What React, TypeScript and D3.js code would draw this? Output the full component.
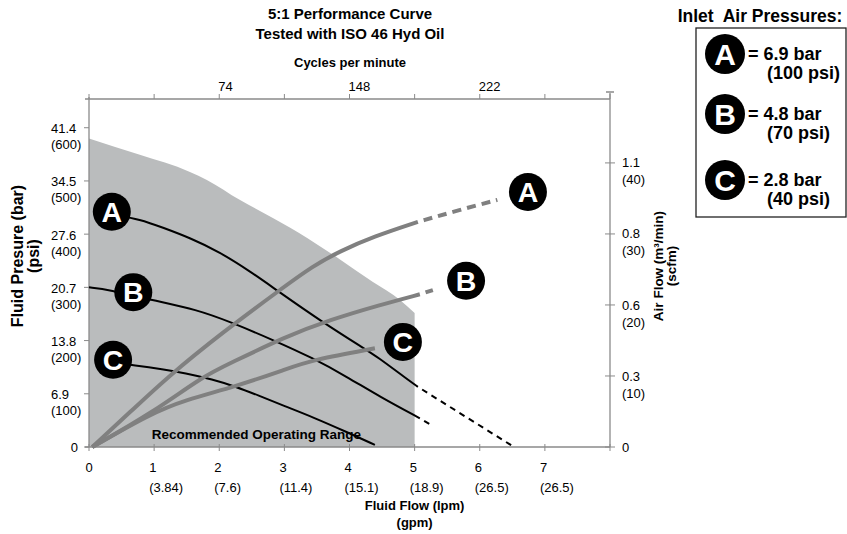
import React from "react";
import * as d3 from "d3";

// bottom axis: flow (gpm) with (lpm) under it, as printed
const flowTicks = [0, 1, 2, 3, 4, 5, 6, 7];
const flowSubLabels = ["", "(3.84)", "(7.6)", "(11.4)", "(15.1)", "(18.9)", "(26.5)", "(26.5)"];

// top axis: cycles per minute
const cycleTicks = [0, 37, 74, 111, 148, 185, 222, 259, 296];
const cycleLabels = [74, 148, 222];

// left axis: fluid pressure
const psiTicks = [0, 100, 200, 300, 400, 500, 600];
const barLabels = ["0", "6.9", "13.8", "20.7", "27.6", "34.5", "41.4"];

// right axis: air flow
const scfmTicks = [0, 10, 20, 30, 40];
const m3Labels = ["0", "0.3", "0.6", "0.8", "1.1"];

// recommended operating range (upper limit, psi)
const rangeFlow = [0, 0.78, 1.55, 1.81, 2.32, 2.83, 3.35, 3.86, 4.36, 4.78, 5.0];
const rangePsi = [580, 549, 517, 502, 464, 430, 393, 352, 310, 276, 252];

// fluid pressure curves (psi)
const pressAFlow = [0.4, 0.78, 1.14, 1.55, 2.0, 2.5, 2.9, 3.58, 4.24, 4.42, 4.88, 5.05];
const pressAPsi = [436, 428, 412, 393, 367, 328, 293, 235, 184, 170, 128, 113];
const pressAExtFlow = [5.05, 6.5];
const pressAExtPsi = [113, 2];

const pressBFlow = [0, 0.3, 0.97, 1.66, 2.17, 2.83, 3.44, 3.96, 4.47, 5.08];
const pressBPsi = [300, 296, 276, 258, 235, 201, 167, 132, 94, 54];
const pressBExtFlow = [5.08, 5.27];
const pressBExtPsi = [54, 40];

const pressCFlow = [0.4, 0.68, 1.14, 1.47, 1.9, 2.24, 2.6, 3.0, 3.44, 3.96, 4.39];
const pressCPsi = [158, 154, 146, 139, 127, 114, 97, 77, 56, 28, 4];

// air consumption curves (scfm)
const airAFlow = [0.05, 0.63, 1.21, 2.06, 2.93, 3.44, 3.86, 4.36, 5.05];
const airAScfm = [0, 4.9, 9.9, 16.2, 22.1, 25.5, 27.6, 29.6, 31.7];
const airAExtFlow = [5.05, 5.7, 6.27];
const airAExtScfm = [31.7, 33.4, 34.8];

const airBFlow = [0.05, 0.97, 1.74, 2.17, 3.01, 3.7, 4.47, 5.08];
const airBScfm = [0, 4.8, 9.9, 11.8, 15.5, 17.9, 20.0, 21.5];
const airBExtFlow = [5.08, 5.28];
const airBExtScfm = [21.5, 22.1];

const airCFlow = [0.05, 0.95, 1.47, 2.24, 3.01, 3.44, 4.39];
const airCScfm = [0, 4.7, 6.6, 8.5, 10.9, 12.3, 13.9];

// circled letters
const letters = ["A", "B", "C"];
const pressMarkFlow = [0.35, 0.68, 0.37];
const pressMarkPsi = [442, 291, 164];
const airMarkFlow = [6.74, 5.79, 4.82];
const airMarkScfm = [35.9, 23.4, 14.8];

// legend
const legendBar = ["= 6.9 bar", "= 4.8 bar", "= 2.8 bar"];
const legendPsi = ["(100 psi)", "(70 psi)", "(40 psi)"];

const FONT = "'Liberation Sans', Arial, Helvetica, sans-serif";
const AXIS = "#8a8a8a";
const AIR = "#808080";

type Pt = [number, number];

function Badge({ cx, cy, r, letter }: { cx: number; cy: number; r: number; letter: string }) {
  return (
    <g>
      <circle cx={cx} cy={cy} r={r} fill="#000" />
      <text x={cx} y={cy} dy="0.36em" textAnchor="middle" fill="#fff" fontWeight="bold" fontSize={r * 1.5}>
        {letter}
      </text>
    </g>
  );
}

export default function App() {
  const x = d3.scaleLinear().domain([0, 8]).range([89, 610]);
  const xCycles = d3.scaleLinear().domain([0, 296]).range([89, 610]);
  const yPsi = d3.scaleLinear().domain([0, 654]).range([447, 99]);
  const yScfm = d3.scaleLinear().domain([0, 49]).range([447, 99]);

  const psiLine = d3
    .line<Pt>()
    .x((d) => x(d[0]))
    .y((d) => yPsi(d[1]))
    .curve(d3.curveBasis);
  const airLine = d3
    .line<Pt>()
    .x((d) => x(d[0]))
    .y((d) => yScfm(d[1]))
    .curve(d3.curveBasis);
  const rangeArea = d3
    .area<Pt>()
    .x((d) => x(d[0]))
    .y0(yPsi(0))
    .y1((d) => yPsi(d[1]))
    .curve(d3.curveMonotoneX);

  const pts = (a: number[], b: number[]) => d3.zip(a, b) as Pt[];

  const pressSolid = [
    pts(pressAFlow, pressAPsi),
    pts(pressBFlow, pressBPsi),
    pts(pressCFlow, pressCPsi),
  ];
  const pressDashed = [pts(pressAExtFlow, pressAExtPsi), pts(pressBExtFlow, pressBExtPsi)];
  const airSolid = [pts(airAFlow, airAScfm), pts(airBFlow, airBScfm), pts(airCFlow, airCScfm)];
  const airDashed = [pts(airAExtFlow, airAExtScfm), pts(airBExtFlow, airBExtScfm)];

  const x0 = x(0);
  const x1 = x(8);
  const yBot = yPsi(0);
  const yTop = yPsi(654);

  return (
    <svg
      width={847}
      height={534}
      style={{ position: "absolute", left: 0, top: 0, background: "#fff" }}
      fontFamily={FONT}
    >
      {/* titles */}
      <text x={350} y={19} textAnchor="middle" fontWeight="bold" fontSize={15}>
        5:1 Performance Curve
      </text>
      <text x={350} y={39} textAnchor="middle" fontWeight="bold" fontSize={15}>
        Tested with ISO 46 Hyd Oil
      </text>

      {/* recommended range */}
      <path d={rangeArea(pts(rangeFlow, rangePsi)) ?? ""} fill="#babcbd" />
      <text x={x(2.57)} y={yPsi(24)} dy="0.35em" textAnchor="middle" fontWeight="bold" fontSize={13.5}>
        Recommended Operating Range
      </text>

      {/* top axis */}
      <text x={350} y={62} dy="0.35em" textAnchor="middle" fontWeight="bold" fontSize={13}>
        Cycles per minute
      </text>
      <line x1={x0 - 4} x2={x1} y1={yTop} y2={yTop} stroke={AXIS} strokeWidth={1.3} />
      {cycleTicks.map((c) => (
        <line key={c} x1={xCycles(c)} x2={xCycles(c)} y1={yTop - 5} y2={yTop} stroke={AXIS} strokeWidth={1} />
      ))}
      {cycleLabels.map((c) => (
        <text key={c} x={xCycles(c) - 1} y={86} dy="0.35em" fontSize={13}>
          {c}
        </text>
      ))}

      {/* left axis */}
      <line x1={x0} x2={x0} y1={yTop - 2} y2={yBot} stroke={AXIS} strokeWidth={1.3} />
      {psiTicks.map((p, i) => (
        <g key={p}>
          <line x1={x0 - 5} x2={x0} y1={yPsi(p)} y2={yPsi(p)} stroke={AXIS} strokeWidth={1} />
          {p === 0 ? (
            <text x={78} y={yPsi(p)} dy="0.35em" textAnchor="end" fontSize={13}>
              0
            </text>
          ) : (
            <>
              <text x={51} y={yPsi(p) + 1} dy="0.35em" fontSize={13}>
                {barLabels[i]}
              </text>
              <text x={51} y={yPsi(p) + 17} dy="0.35em" fontSize={13}>
                ({p})
              </text>
            </>
          )}
        </g>
      ))}
      <g transform="translate(17,256) rotate(-90)">
        <text textAnchor="middle" dy="0.35em" fontWeight="bold" fontSize={16}>
          Fluid Presure (bar)
        </text>
        <text y={16} textAnchor="middle" dy="0.35em" fontWeight="bold" fontSize={16}>
          (psi)
        </text>
      </g>

      {/* right axis */}
      <line x1={x1} x2={x1} y1={yTop - 6} y2={yBot} stroke={AXIS} strokeWidth={1.3} />
      <line x1={x1 - 4} x2={x1 + 4} y1={yTop - 7} y2={yTop - 7} stroke={AXIS} strokeWidth={1.5} />
      {scfmTicks.map((s, i) => (
        <g key={s}>
          <line x1={x1 - 5} x2={x1 + 5} y1={yScfm(s)} y2={yScfm(s)} stroke={AXIS} strokeWidth={1} />
          <text x={622} y={yScfm(s)} dy="0.35em" fontSize={13}>
            {m3Labels[i]}
          </text>
          {s > 0 && (
            <text x={622} y={yScfm(s) + 17} dy="0.35em" fontSize={13}>
              ({s})
            </text>
          )}
        </g>
      ))}
      <g transform="translate(658,266) rotate(-90)">
        <text textAnchor="middle" dy="0.35em" fontWeight="bold" fontSize={13.5}>
          Air Flow (m³/min)
        </text>
        <text y={13} textAnchor="middle" dy="0.35em" fontWeight="bold" fontSize={13.5}>
          (scfm)
        </text>
      </g>

      {/* bottom axis */}
      <line x1={x0 - 4} x2={x1} y1={yBot} y2={yBot} stroke={AXIS} strokeWidth={1.3} />
      {d3.range(0, 9).map((g) => (
        <line key={g} x1={x(g)} x2={x(g)} y1={yBot - 3} y2={yBot + 4} stroke={AXIS} strokeWidth={1} />
      ))}
      {flowTicks.map((g, i) => (
        <g key={g}>
          <text x={g === 0 ? x(g) : x(g) - 5} y={467} dy="0.35em" textAnchor={g === 0 ? "middle" : "start"} fontSize={13}>
            {g}
          </text>
          {flowSubLabels[i] && (
            <text x={x(g) - 5} y={487} dy="0.35em" fontSize={13}>
              {flowSubLabels[i]}
            </text>
          )}
        </g>
      ))}
      <text x={x(5)} y={505} dy="0.35em" textAnchor="middle" fontWeight="bold" fontSize={13}>
        Fluid Flow (lpm)
      </text>
      <text x={x(5)} y={522} dy="0.35em" textAnchor="middle" fontWeight="bold" fontSize={13}>
        (gpm)
      </text>

      {/* fluid pressure curves */}
      {pressSolid.map((d, i) => (
        <path key={i} d={psiLine(d) ?? ""} fill="none" stroke="#000" strokeWidth={2} />
      ))}
      {pressDashed.map((d, i) => (
        <path
          key={i}
          d={psiLine(d) ?? ""}
          fill="none"
          stroke="#000"
          strokeWidth={2}
          strokeDasharray="6 5"
          strokeDashoffset={6}
        />
      ))}

      {/* air flow curves */}
      {airSolid.map((d, i) => (
        <path key={i} d={airLine(d) ?? ""} fill="none" stroke={AIR} strokeWidth={4} />
      ))}
      {airDashed.map((d, i) => (
        <path
          key={i}
          d={airLine(d) ?? ""}
          fill="none"
          stroke={AIR}
          strokeWidth={4}
          strokeDasharray="9 6"
          strokeDashoffset={9}
        />
      ))}

      {/* curve badges */}
      {letters.map((l, i) => (
        <Badge key={"p" + l} cx={x(pressMarkFlow[i])} cy={yPsi(pressMarkPsi[i])} r={19} letter={l} />
      ))}
      {letters.map((l, i) => (
        <Badge key={"a" + l} cx={x(airMarkFlow[i])} cy={yScfm(airMarkScfm[i])} r={19} letter={l} />
      ))}

      {/* legend */}
      <text x={760} y={16} dy="0.35em" textAnchor="middle" fontWeight="bold" fontSize={17.5}>
        {"Inlet\u00a0 Air Pressures:"}
      </text>
      <rect x={696} y={28} width={150} height={189} fill="none" stroke="#222" strokeWidth={1.3} />
      {letters.map((l, i) => {
        const cy = [54, 114, 180][i];
        return (
          <g key={"l" + l}>
            <Badge cx={725} cy={cy} r={20} letter={l} />
            <text x={748} y={cy} dy="0.35em" fontWeight="bold" fontSize={18}>
              {legendBar[i]}
            </text>
            <text x={767} y={cy + 19} dy="0.35em" fontWeight="bold" fontSize={18}>
              {legendPsi[i]}
            </text>
          </g>
        );
      })}
    </svg>
  );
}
